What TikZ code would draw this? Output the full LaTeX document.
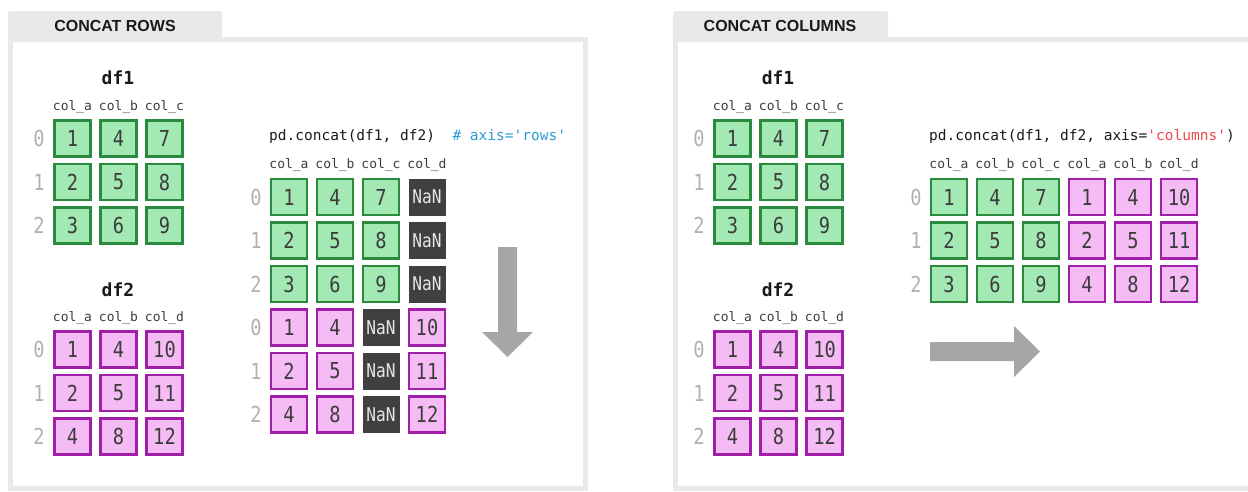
\documentclass[tikz,border=0pt]{standalone}
\usepackage{fontspec}
\setmainfont{Liberation Sans}
\newfontfamily\codefont{DejaVu Sans Mono}[Ligatures=TeXOff]
\newfontfamily\cellfont{DejaVu Sans Mono}[Ligatures=TeXOff,FakeStretch=0.85]
\definecolor{panelgray}{HTML}{E9E9E9}
\definecolor{arrowgray}{HTML}{A6A6A6}
\definecolor{cellgreen}{HTML}{2A8A3E}
\definecolor{fillgreen}{HTML}{A2E9B4}
\definecolor{cellpurple}{HTML}{A01EA8}
\definecolor{fillpink}{HTML}{F5BBF5}
\definecolor{nangray}{HTML}{404040}
\definecolor{nantext}{HTML}{E6E6E6}
\definecolor{idxgray}{HTML}{B0B0B0}
\definecolor{inkdark}{HTML}{1A1A1A}
\definecolor{cmtblue}{HTML}{2B9BD0}
\definecolor{strred}{HTML}{F04848}
\tikzset{
  cell/.style={minimum size=36pt, inner sep=0pt, line width=2.6pt, text=inkdark!85,
    font=\fontsize{22}{22}\cellfont},
  gcell/.style={cell, draw=cellgreen, fill=fillgreen},
  pcell/.style={cell, draw=cellpurple, fill=fillpink},
  nancell/.style={minimum size=37pt, inner sep=0pt, fill=nangray, text=nantext,
    font=\fontsize{19}{19}\cellfont},
  hdr/.style={inner sep=0pt, text=inkdark!85, font=\fontsize{13}{13}\codefont},
  idx/.style={inner sep=0pt, text=idxgray, font=\fontsize{22}{22}\cellfont},
  dftitle/.style={inner sep=0pt, text=inkdark, font=\fontsize{18}{18}\codefont\bfseries},
  code/.style={inner sep=0pt, anchor=west, text=inkdark, font=\fontsize{14.5}{14.5}\codefont},
  tabtitle/.style={inner sep=0pt, text=inkdark, font=\bfseries\fontsize{16}{16}\selectfont},
}
\begin{document}
\begin{tikzpicture}[x=1pt,y=-1pt]
  \useasboundingbox (0,0) rectangle (1248,491);
  % panels and tabs
  \fill[panelgray, rounded corners=2pt] (8,11) rectangle (222,40);
  \draw[panelgray, line width=5pt] (10.5,39.5) rectangle (585.5,488.5);
  \fill[panelgray, rounded corners=2pt] (673,11) rectangle (888,40);
  \draw[panelgray, line width=5pt] (1248,39.5) -- (675.5,39.5) -- (675.5,488.5) -- (1248,488.5);
  \node[tabtitle] (rowstab) at (115,26) {CONCAT ROWS};
  \node[tabtitle] (colstab) at (780,26) {CONCAT COLUMNS};

  % ---- concat rows ----
  \node[dftitle] (ldf1) at (118,78) {df1};
  \foreach \c/\x/\va/\vb/\vc in {a/72.5/1/2/3, b/118.5/4/5/6, c/164.5/7/8/9} {
    \node[hdr] (l1h\c) at (\x,107) {col\_\c};
    \node[gcell] (l1\c0) at (\x,138.5) {\va};
    \node[gcell] (l1\c1) at (\x,182) {\vb};
    \node[gcell] (l1\c2) at (\x,225.5) {\vc};
  }
  \node[dftitle] (ldf2) at (118,290) {df2};
  \foreach \c/\x/\va/\vb/\vc in {a/72.5/1/2/4, b/118.5/4/5/8, d/164.5/10/11/12} {
    \node[hdr] (l2h\c) at (\x,318) {col\_\c};
    \node[pcell] (l2\c0) at (\x,349.5) {\va};
    \node[pcell] (l2\c1) at (\x,393) {\vb};
    \node[pcell] (l2\c2) at (\x,436.5) {\vc};
  }
  \foreach \r/\ya/\yb in {0/138.5/349.5, 1/182/393, 2/225.5/436.5} {
    \node[idx] (l1i\r) at (39,\ya) {\r};
    \node[idx] (l2i\r) at (39,\yb) {\r};
  }
  \node[code] (rowscode) at (269,136) {pd.concat(df1, df2)~~\textcolor{cmtblue}{\# axis='rows'}};
  \foreach \c/\x in {a/289, b/335, c/381, d/427}
    \node[hdr] (lrh\c) at (\x,165) {col\_\c};
  \foreach \c/\x/\va/\vb/\vc in {a/289/1/2/3, b/335/4/5/6, c/381/7/8/9} {
    \node[gcell] (lr\c0) at (\x,197) {\va};
    \node[gcell] (lr\c1) at (\x,240.5) {\vb};
    \node[gcell] (lr\c2) at (\x,284) {\vc};
  }
  \foreach \c/\x/\va/\vb/\vc in {a/289/1/2/4, b/335/4/5/8, d/427/10/11/12} {
    \node[pcell] (lr\c3) at (\x,327.5) {\va};
    \node[pcell] (lr\c4) at (\x,371) {\vb};
    \node[pcell] (lr\c5) at (\x,414.5) {\vc};
  }
  \foreach \r/\y in {0/197, 1/240.5, 2/284}
    \node[nancell] (lrd\r) at (427,\y) {NaN};
  \foreach \r/\y in {3/327.5, 4/371, 5/414.5}
    \node[nancell] (lrc\r) at (381,\y) {NaN};
  \foreach \r/\k/\y in {0/0/197, 1/1/240.5, 2/2/284, 3/0/327.5, 4/1/371, 5/2/414.5}
    \node[idx] (lri\r) at (256,\y) {\k};
  \fill[arrowgray] (498,247) -- (517,247) -- (517,332) -- (533,332) -- (507.5,357)
    -- (482,332) -- (498,332) -- cycle;

  % ---- concat columns ----
  \node[dftitle] (rdf1) at (778,78) {df1};
  \foreach \c/\x/\va/\vb/\vc in {a/732.5/1/2/3, b/778.5/4/5/6, c/824.5/7/8/9} {
    \node[hdr] (r1h\c) at (\x,107) {col\_\c};
    \node[gcell] (r1\c0) at (\x,138.5) {\va};
    \node[gcell] (r1\c1) at (\x,182) {\vb};
    \node[gcell] (r1\c2) at (\x,225.5) {\vc};
  }
  \node[dftitle] (rdf2) at (778,290) {df2};
  \foreach \c/\x/\va/\vb/\vc in {a/732.5/1/2/4, b/778.5/4/5/8, d/824.5/10/11/12} {
    \node[hdr] (r2h\c) at (\x,318) {col\_\c};
    \node[pcell] (r2\c0) at (\x,349.5) {\va};
    \node[pcell] (r2\c1) at (\x,393) {\vb};
    \node[pcell] (r2\c2) at (\x,436.5) {\vc};
  }
  \foreach \r/\ya/\yb in {0/138.5/349.5, 1/182/393, 2/225.5/436.5} {
    \node[idx] (r1i\r) at (699,\ya) {\r};
    \node[idx] (r2i\r) at (699,\yb) {\r};
  }
  \node[code] (colscode) at (929,136) {pd.concat(df1, df2, axis=\textcolor{strred}{'columns'})};
  \foreach \n/\c/\x/\va/\vb/\vc in {1/a/949/1/2/3, 2/b/995/4/5/6, 3/c/1041/7/8/9} {
    \node[hdr] (rrh\n) at (\x,165) {col\_\c};
    \node[gcell] (rr\n0) at (\x,197) {\va};
    \node[gcell] (rr\n1) at (\x,240.5) {\vb};
    \node[gcell] (rr\n2) at (\x,284) {\vc};
  }
  \foreach \n/\c/\x/\va/\vb/\vc in {4/a/1087/1/2/4, 5/b/1133/4/5/8, 6/d/1179/10/11/12} {
    \node[hdr] (rrh\n) at (\x,165) {col\_\c};
    \node[pcell] (rr\n0) at (\x,197) {\va};
    \node[pcell] (rr\n1) at (\x,240.5) {\vb};
    \node[pcell] (rr\n2) at (\x,284) {\vc};
  }
  \foreach \r/\y in {0/197, 1/240.5, 2/284}
    \node[idx] (rri\r) at (916,\y) {\r};
  \fill[arrowgray] (930,342) -- (1014,342) -- (1014,326) -- (1040,351.5) -- (1014,377)
    -- (1014,361) -- (930,361) -- cycle;
\end{tikzpicture}
\end{document}
